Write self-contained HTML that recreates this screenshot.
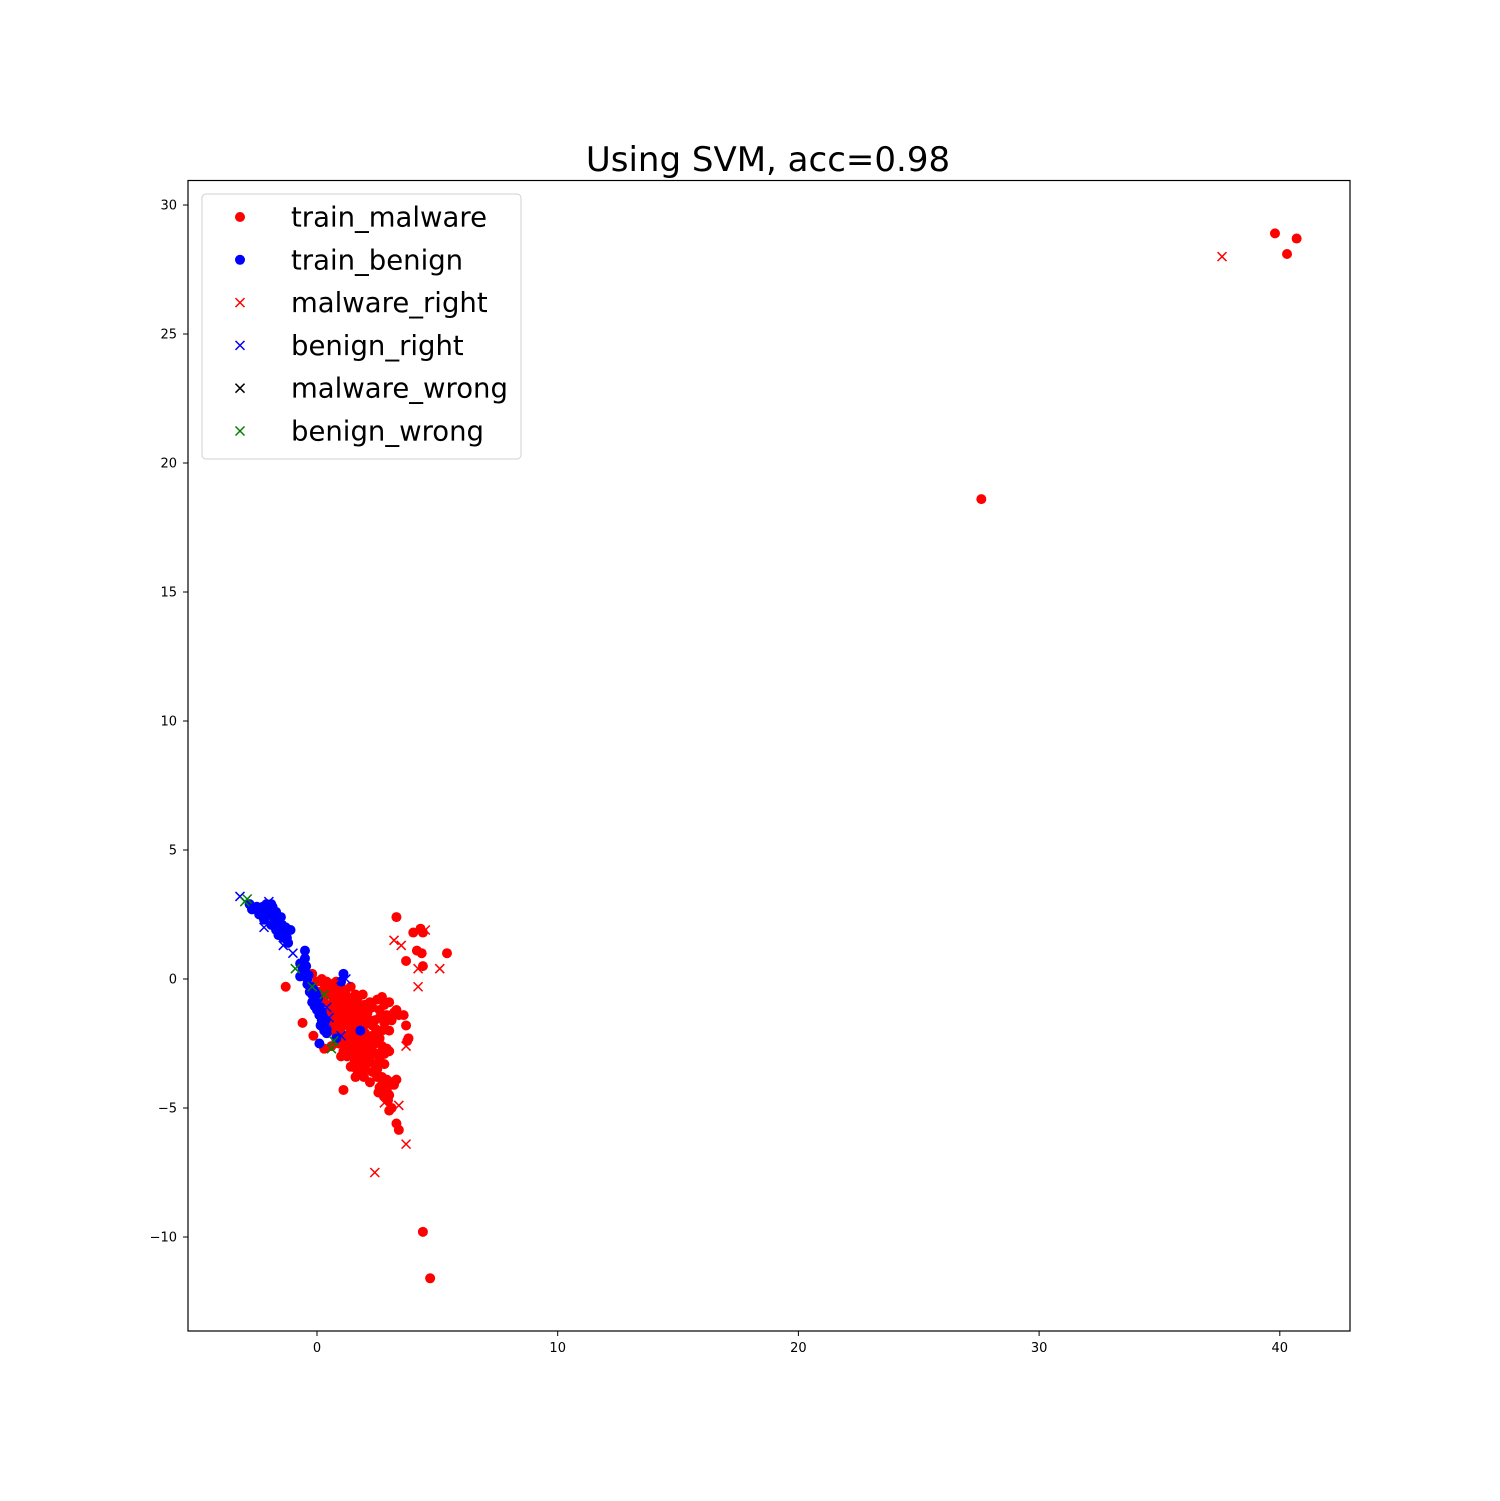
<!DOCTYPE html>
<html><head><meta charset="utf-8">
<style>
html,body{margin:0;padding:0;background:#fff;}
svg text{font-family:"DejaVu Sans","Liberation Sans",sans-serif;}
</style></head>
<body>
<svg id="chart" width="1500" height="1496" viewBox="0 0 1500 1496" xmlns="http://www.w3.org/2000/svg">
<rect width="1500" height="1496" fill="#fff"/>
<text x="768" y="171" font-size="34" text-anchor="middle" fill="#000">Using SVM, acc=0.98</text>
<g id="marks"></g>
<rect x="188" y="180.5" width="1162" height="1150.5" fill="none" stroke="#000" stroke-width="1.2"/>
<g id="ticks"></g>
<g id="legend"></g>
</svg>
<script>
const xTicks=[0,10,20,30,40];
const yTicks=[-10,-5,0,5,10,15,20,25,30];
const trainMalware=[[27.6,18.6],[39.8,28.9],[40.7,28.7],[40.3,28.1],[4.4,-9.8],[4.7,-11.6],
[3.3,2.4],[4.0,1.8],[4.3,1.95],[4.4,1.8],[4.15,1.1],[4.35,1.0],[5.4,1.0],[3.7,0.7],[4.4,0.5],
[-1.3,-0.3],[-0.6,-1.7],[-0.15,-2.2],[0.3,-2.7],[1.1,-4.3],[1.6,-3.8],[3.0,-5.1],[3.3,-5.6],[3.4,-5.85],[3.1,-5.0],
[3.6,-1.4],[3.7,-1.8],[3.8,-2.3],[3.75,-2.4],[3.3,-3.9],[3.2,-4.1],
[0.2,0.0],[0.4,-0.1],[0.6,-0.2],[0.8,-0.1],[0.5,-0.4],[0.8,-0.5],[1.0,-0.3],[1.2,-0.6],[0.7,-0.8],[1.0,-1.0],[1.3,-1.0],[1.5,-0.9],[1.6,-0.6],[1.8,-1.2],
[0.9,-1.3],[1.2,-1.5],[1.5,-1.2],[1.7,-1.6],[2.0,-1.5],[2.1,-1.3],[2.3,-1.8],[1.1,-1.8],[1.4,-2.0],[1.7,-2.0],[2.0,-2.1],[2.3,-2.2],
[0.9,-2.0],[1.2,-2.3],[1.3,-2.5],[1.6,-2.6],[1.9,-2.5],[2.0,-2.8],[2.3,-2.6],[2.5,-2.9],[1.5,-3.0],[1.8,-3.2],[2.2,-3.0],[2.4,-3.3],
[2.0,-3.5],[2.5,-3.5],[2.7,-3.8],[2.8,-4.0],[2.6,-4.2],[2.9,-4.3],[3.0,-4.5],[1.7,-3.6],
[2.5,-0.8],[2.7,-0.7],[2.8,-1.0],[3.0,-0.9],[3.2,-1.3],[3.3,-1.2],[2.6,-1.2],[2.9,-1.4],[3.1,-1.6],[3.4,-1.4],
[0.1,-0.5],[0.3,-0.9],[0.5,-1.3],[0.7,-1.6],[0.6,-2.0],[0.9,-2.5],[1.1,-2.8],[1.4,-3.4],[2.7,-2.6],[2.9,-2.7],
[-0.6,0.5],[-0.2,0.2],[0.0,-0.1],[1.9,-0.6],[2.2,-0.9],[2.4,-1.6],[1.0,-3.0],[0.6,-2.6],
[0.3,-0.2],[0.45,-0.6],[0.65,-0.45],[0.9,-0.75],[1.1,-0.5],[1.35,-0.75],[0.6,-1.0],[0.8,-1.2],[1.05,-1.25],[1.3,-1.3],[1.55,-1.5],[1.8,-1.45],
[0.4,-1.5],[0.65,-1.35],[0.85,-1.65],[1.0,-1.55],[1.25,-1.75],[1.5,-1.75],[1.75,-1.85],[1.95,-1.8],[2.2,-1.6],[2.45,-1.95],
[0.75,-1.9],[1.0,-2.1],[1.3,-2.2],[1.55,-2.3],[1.8,-2.3],[2.1,-2.4],[2.4,-2.5],[2.6,-2.3],
[0.8,-2.3],[1.05,-2.5],[1.4,-2.75],[1.7,-2.8],[1.9,-2.95],[2.15,-2.75],[2.35,-2.9],[2.6,-3.1],[2.8,-3.3],
[1.25,-3.0],[1.55,-3.25],[1.85,-3.4],[2.1,-3.25],[2.3,-3.6],[2.5,-3.8],[2.7,-4.1],[2.9,-3.9],[3.1,-4.0],[2.2,-4.0],
[1.4,-0.3],[1.7,-0.9],[2.0,-1.0],[2.3,-1.1],[2.6,-1.5],[2.8,-1.7],[3.0,-2.0],[2.7,-2.0],[3.0,-2.8],[2.8,-2.9],
[0.35,-0.4],[0.2,-0.75],[0.55,-1.75],[0.95,-0.15],[1.15,-0.9],[1.45,-1.55],[2.05,-2.55],[1.6,-3.45],[1.95,-3.8],[2.55,-4.4],[2.95,-4.7],[2.75,-4.5]];
const trainBenign=[[-2.8,2.9],[-2.6,2.75],[-2.5,2.8],[-2.3,2.6],[-2.1,2.9],[-2.0,2.8],[-2.0,2.5],[-1.8,2.4],[-1.7,2.6],[-1.6,2.2],[-1.5,2.4],[-1.3,2.0],[-1.7,1.9],[-1.4,1.6],[-1.2,1.4],[-1.9,2.1],[-2.2,2.3],[-1.1,1.9],[-2.4,2.5],[-1.5,2.0],
[-2.7,2.7],[-2.45,2.65],[-2.25,2.8],[-2.15,2.4],[-1.95,2.65],[-1.85,2.8],[-1.75,2.25],[-1.65,2.45],[-1.55,1.85],[-1.45,2.1],[-1.35,1.75],[-1.25,1.6],[-1.6,1.7],[-1.9,2.9],
[-0.5,1.1],[-0.7,0.6],[-0.5,0.8],[-0.5,0.3],[-0.7,0.1],[-0.4,0.0],[-0.4,-0.2],[-0.3,-0.5],[-0.2,-0.6],[-0.1,-0.8],[0.0,-1.0],[0.0,-1.2],[0.1,-1.4],[0.2,-1.6],[0.3,-1.8],[0.3,-2.0],[0.1,-2.5],[-0.2,-0.9],[-0.6,0.4],
[-0.6,0.2],[-0.45,0.5],[-0.35,0.15],[-0.25,-0.3],[-0.15,-0.4],[-0.05,-0.55],[0.05,-0.75],[0.1,-1.1],[0.2,-1.25],[0.25,-1.45],[0.35,-1.6],[0.15,-1.8],[0.4,-1.95],[-0.1,-1.05],
[1.1,0.2],[1.0,-0.1],[0.8,-2.3],[1.8,-2.0],[0.4,-2.1]];
const malwareRight=[[37.6,28.0],[3.2,1.5],[3.5,1.3],[4.5,1.9],[5.1,0.4],[4.2,0.4],[4.2,-0.3],[3.7,-2.6],[2.5,-3.8],[3.4,-4.9],[2.8,-4.8],[3.7,-6.4],[2.4,-7.5],[1.2,-1.0],[0.7,-0.2],[1.8,-1.5],[2.5,-2.3]];
const benignRight=[[-3.2,3.2],[-2.0,3.0],[-1.4,1.3],[-1.0,1.0],[-2.2,2.0],[0.4,-1.1],[0.5,-1.5],[1.2,0.0],[-0.6,0.6],[1.0,-2.2]];
const malwareWrong=[];
const benignWrong=[[-3.0,3.0],[-2.9,3.1],[-0.9,0.4],[-0.2,-0.3],[0.3,-0.6],[0.7,-2.4],[0.6,-2.7]];

const X0=317, XS=24.07, Y0=979, YS=25.8;
const xs=v=>X0+v*XS, ys=v=>Y0-v*YS;
const NS='http://www.w3.org/2000/svg';
const marks=document.getElementById('marks');
function dot(g,x,y,c){const e=document.createElementNS(NS,'circle');
e.setAttribute('cx',x);e.setAttribute('cy',y);e.setAttribute('r',5);e.setAttribute('fill',c);


g.appendChild(e);}
function cross(g,x,y,c){const e=document.createElementNS(NS,'path');const s=4.5;
e.setAttribute('d',`M${x-s},${y-s}L${x+s},${y+s}M${x-s},${y+s}L${x+s},${y-s}`);
e.setAttribute('stroke',c);e.setAttribute('stroke-width',1.5);e.setAttribute('fill','none');


g.appendChild(e);}
trainMalware.forEach(p=>dot(marks,xs(p[0]),ys(p[1]),'#ff0000'));
trainBenign.forEach(p=>dot(marks,xs(p[0]),ys(p[1]),'#0000ff'));
malwareRight.forEach(p=>cross(marks,xs(p[0]),ys(p[1]),'#ff0000'));
benignRight.forEach(p=>cross(marks,xs(p[0]),ys(p[1]),'#0000ff'));
malwareWrong.forEach(p=>cross(marks,xs(p[0]),ys(p[1]),'#000000'));
benignWrong.forEach(p=>cross(marks,xs(p[0]),ys(p[1]),'#008000'));

const tk=document.getElementById('ticks');
xTicks.forEach(t=>{const x=xs(t);
const l=document.createElementNS(NS,'line');l.setAttribute('x1',x);l.setAttribute('x2',x);l.setAttribute('y1',1331);l.setAttribute('y2',1336);l.setAttribute('stroke','#000');


tk.appendChild(l);
const tx=document.createElementNS(NS,'text');tx.setAttribute('x',x);tx.setAttribute('y',1352);tx.setAttribute('font-size','13');tx.setAttribute('text-anchor','middle');tx.textContent=t;


tk.appendChild(tx);});
yTicks.forEach(t=>{const y=ys(t);
const l=document.createElementNS(NS,'line');l.setAttribute('x1',183);l.setAttribute('x2',188);l.setAttribute('y1',y);l.setAttribute('y2',y);l.setAttribute('stroke','#000');


tk.appendChild(l);
const tx=document.createElementNS(NS,'text');tx.setAttribute('x',177);tx.setAttribute('y',y+4.5);tx.setAttribute('font-size','13');tx.setAttribute('text-anchor','end');tx.textContent=(t<0?'\u2212'+(-t):t);


tk.appendChild(tx);});

const lg=document.getElementById('legend');
const box=document.createElementNS(NS,'rect');box.setAttribute('x',202);box.setAttribute('y',194);box.setAttribute('width',319);box.setAttribute('height',265);box.setAttribute('rx',4);box.setAttribute('fill','#fff');box.setAttribute('fill-opacity','0.8');box.setAttribute('stroke','#d0d0d0');


lg.appendChild(box);
const legendLabels=['train_malware','train_benign','malware_right','benign_right','malware_wrong','benign_wrong'];
const legendColors=['#ff0000','#0000ff','#ff0000','#0000ff','#000000','#008000'];
legendLabels.forEach((lab,i)=>{const y=217+i*42.8;
if(i<2)dot(lg,240,y,legendColors[i]);else cross(lg,240,y,legendColors[i]);
const tx=document.createElementNS(NS,'text');tx.setAttribute('x',291);tx.setAttribute('y',y+9.5);tx.setAttribute('font-size','27.5');tx.textContent=lab;


lg.appendChild(tx);});
</script>
</body></html>
